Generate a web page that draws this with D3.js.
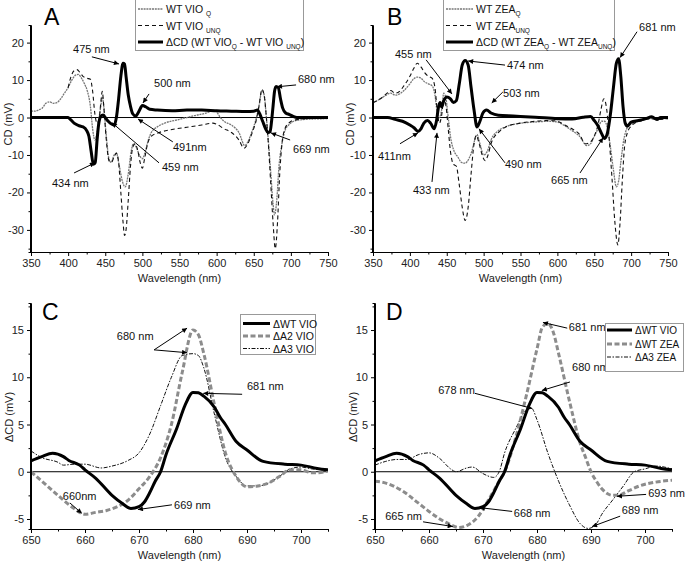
<!DOCTYPE html>
<html><head><meta charset="utf-8">
<script src="https://cdn.jsdelivr.net/npm/d3@7"></script>
<style>body{margin:0;background:#fff}svg{display:block;font-family:"Liberation Sans",Arial,sans-serif}</style>
</head><body>
<script>
// ---------- DATA ----------
const xTicksAB = [350,400,450,500,550,600,650,700,750];
const xMinorAB = [375,425,475,525,575,625,675,725];
const yTicksAB = [-30,-20,-10,0,10,20];
const yMinorAB = [-35,-25,-15,-5,5,15];
const xTicksCD = [650,660,670,680,690,700];
const xMinorCD = [655,665,675,685,695,705];
const yTicksCD = [-5,0,5,10,15];
const yMinorCD = [-2.5,2.5,7.5,12.5,17.5];

// Panel A  [nm, mV]
const A_dcd = [[350,0],[380,0],[400,0],[403,-0.5],[408,-1.5],[415,-2.2],[420,-2.5],[425,-3.5],[428,-5],[431,-9],[434,-12.5],[436.5,-12],[439,-6],[441,-2],[444,0.3],[447,0.7],[450,0],[454,-1],[459,-1.8],[462,-2],[465,0],[468,5],[471,11],[474,14.5],[476,14.3],[478,11],[481,6],[484,3],[487,1],[491,0.4],[495,1.5],[500,3.2],[505,2.8],[510,2.2],[520,2],[540,1.8],[560,2],[580,2],[600,1.8],[620,1.7],[640,1.6],[650,1.7],[655,2],[658,1],[662,-1],[666,-3],[669,-4],[672,-3.8],[674,-1],[676,3],[678,7],[680,8.3],[683,8],[686,5],[689,2.5],[693,1.2],[698,0.8],[703,0.3],[708,0],[750,0]];
const A_unq = [[400,8],[404,11],[408,12.5],[412,12.8],[416,12],[420,11],[425,10.5],[430,10.2],[433,7],[436,1],[439,-1.5],[442,0],[444,4],[446,7],[448,3],[451,-5],[455,-11.5],[458,-12],[462,-10.5],[465,-9.5],[468,-12],[471,-20],[474,-28],[476,-31.5],[478,-30],[481,-22],[484,-13],[487,-8],[490,-7],[494,-9],[497,-12],[500,-13.5],[503,-11],[507,-7],[512,-5],[520,-4.2],[540,-3.2],[560,-2.6],[580,-2],[595,-1.5],[600,-1.8],[610,-3],[620,-4],[630,-6],[637,-8.2],[642,-7],[648,-4],[653,-1],[657,3],[661,7.5],[664,6],[667,0],[670,-8],[673,-18],[676,-28],[679,-35],[682,-28],[685,-15],[688,-7],[692,-3],[697,-1.5],[702,-0.8],[710,-0.5],[720,-0.3],[750,0]];
const A_q = [[350,1.8],[355,1.7],[360,2],[365,2.5],[370,3.8],[375,4.2],[380,3.8],[385,4],[390,5],[395,6.5],[400,8],[405,10],[410,11.3],[414,11.5],[418,10.5],[422,9],[426,7],[430,3],[433,-3],[436,-6],[438,-5],[441,-1],[444,3],[446,5.5],[448,3],[451,-4],[455,-11],[458,-12],[462,-10],[465,-9.5],[469,-13],[473,-17],[477,-18.5],[481,-15],[485,-9],[488,-7],[492,-8],[496,-10],[500,-11],[504,-9],[508,-6],[512,-4],[520,-2.5],[530,-1.5],[550,-0.5],[570,0.5],[590,1.5],[595,2],[600,1.5],[605,0],[610,-1],[620,-2],[630,-4],[638,-7.5],[642,-6.5],[648,-3.5],[653,-0.5],[657,3],[661,7.2],[664,6],[667,0],[670,-7],[673,-15],[676,-23],[678,-26],[681,-22],[684,-13],[688,-7],[692,-3.5],[697,-2],[702,-1.2],[710,-0.7],[720,-0.5],[750,-0.3]];

// Panel B
const B_dcd = [[350,0],[370,0],[380,-0.5],[390,-1],[400,-2],[406,-2.8],[411,-3.7],[415,-3],[419,-1.5],[424,-0.8],[428,-1.5],[433,-3],[436,-1],[439,3],[441,4],[443,2.8],[446,4.5],[450,5.5],[455,5],[459,4],[463,4.5],[467,9],[471,14],[475,15.2],[479,14],[483,8],[487,2],[491,-2.5],[495,-1],[499,1.2],[504,2],[510,1.2],[520,0.6],[540,0.4],[570,0.1],[600,-0.3],[620,-0.4],[635,0.1],[645,0.3],[650,-0.8],[655,-2.2],[660,-4.3],[664,-5.6],[668,-4],[672,1],[676,8],[680,14.5],[683,15.7],[686,11],[689,3],[692,-1.5],[695,-2.3],[700,-1.2],[710,-0.8],[720,-0.3],[728,0.2],[735,-0.5],[740,0],[750,0]];
const B_unq = [[350,4],[360,5],[368,6.3],[374,7.2],[380,6.5],[386,7],[392,8.5],[400,11],[405,13],[410,14.5],[415,13.5],[420,12],[425,11],[430,10.5],[434,8],[437,2],[440,-1.5],[443,0.5],[446,5],[449,3],[452,-3],[455,-9],[459,-12.5],[463,-13],[467,-18],[471,-24],[475,-27.5],[479,-24],[483,-15],[487,-7],[490,-4.8],[494,-7],[498,-10],[502,-11.5],[506,-10],[510,-7],[515,-5],[520,-4],[530,-2.5],[550,-1.5],[570,-1],[590,-0.8],[600,-1],[610,-2],[620,-3],[630,-4.5],[638,-7],[645,-6.5],[650,-5],[655,-2],[659,2],[663,5],[667,2],[670,-5],[674,-16],[678,-28],[682,-34],[685,-28],[688,-17],[691,-8],[695,-4],[699,-2.5],[705,-1.5],[715,-0.8],[725,-0.3],[735,-0.5],[750,-0.3]];
const B_q = [[350,4],[360,5],[368,6],[374,6.5],[380,6],[386,6.3],[392,7.2],[400,9],[405,10.3],[410,10.8],[415,10.5],[420,9.5],[425,9],[430,8.5],[434,6],[437,1.5],[440,0],[443,2],[446,6.5],[449,5],[452,0],[455,-5],[460,-9],[465,-10.5],[470,-12],[475,-12.2],[480,-11],[484,-9],[488,-6],[491,-4.5],[495,-7],[500,-10],[505,-9],[510,-6],[520,-3.5],[530,-2.5],[550,-1.5],[570,-1.2],[590,-1],[600,-1.2],[610,-2.2],[620,-3.5],[630,-5],[640,-7.5],[645,-7],[650,-5],[655,-3],[660,-1],[664,-1],[668,-3],[672,-8],[676,-14],[680,-18.5],[683,-17],[686,-12],[690,-6],[694,-3],[698,-2],[705,-1.3],[715,-0.8],[725,-0.3],[750,-0.3]];

// Panel C / D
const dWT_VIO = [[650,1.15],[652,1.6],[654,1.95],[656,1.6],[657,1.2],[659,0.7],[660,0.2],[662,-0.7],[665,-2.5],[667,-3.4],[668.5,-3.9],[670,-3.7],[671,-3.2],[672,-2.2],[673,-1],[674,0],[675,1.8],[677,4.6],[678.5,7],[680,8.4],[681,8.35],[682,8],[684,6.8],[685,5.8],[686,5],[688,3.2],[690,2.3],[693,1.1],[697,0.8],[700,0.7],[703,0.35],[705,0.2]];
const dA2_VIO = [[650,0],[652,-1],[655,-2.5],[658,-3.9],[660,-4.5],[662,-4.3],[664,-4.1],[666,-3.7],[668,-3],[670,-1.8],[672,-0.5],[674,1.5],[676,5],[678,10.5],[680,15],[681,14.5],[682,12.5],[684,7],[686,2],[688,-0.5],[690,-1.6],[692,-1.5],[694,-1.2],[696,-0.5],[698,0.2],[700,0.2],[702,-0.1],[703,-0.1],[705,0.1]];
const dA3_VIO = [[650,2.2],[652,1.5],[655,1],[656,0.7],[658,0.8],[660,0.8],[663,0.4],[665,0.6],[668,1.2],[670,2],[672,4],[674,7],[676,10],[678,12.3],[680,12.5],[681,12.3],[682,11],[684,6],[686,1.5],[688,-0.5],[690,-1.5],[692,-1.5],[694,-1.2],[696,-0.5],[698,0.3],[700,0.5],[702,0.3],[705,0.2]];
const dWT_ZEA = [[650,-1],[652,-1.2],[655,-2],[658,-3.3],[660,-4.2],[662,-5],[664,-5.6],[665.5,-5.9],[667,-5.7],[669,-4.8],[671,-3],[673,-1],[674,0],[676,3.5],[678,8],[680,13],[681,15.3],[682,15.7],[683,14.8],[684,12.5],[686,7.5],[688,3],[689,1.5],[690,0],[691,-1],[692,-1.8],[693,-2.3],[694,-2.5],[695,-2.5],[697,-2],[699,-1.5],[702,-1.1],[705,-0.9]];
const dA3_ZEA = [[650,0.7],[652,1.1],[654,1.3],[656,1.3],[658,1.8],[660,2],[662,1.4],[664,0.3],[665,0],[667,0.4],[668,0.5],[670,-0.2],[672,-0.6],[673,0],[674,2],[676,4.5],[678,6.5],[679,6.7],[680,5.5],[682,2],[684,-1],[686,-3.5],[688,-5.5],[689.5,-6],[691,-5.5],[692,-4.5],[694,-3],[696,-1.5],[698,0],[700,0.3],[702,0.6],[705,0.3]];

// annotations: text, label anchor [nm,val], arrow from [nm,val], arrow to [nm,val]
const annA = [
 {t:"475 nm", at:[406.6,17.2], from:[432,16.2], to:[468.5,14.3]},
 {t:"500 nm", at:[515.7,8.2], from:[509,6.3], to:[500.8,3.9]},
 {t:"680 nm", at:[709.6,9.2], from:[707,8.7], to:[681.3,8.2]},
 {t:"491nm", at:[541.2,-8.9], from:[541,-6.5], to:[494.1,-0.4]},
 {t:"459 nm", at:[526.4,-14.3], from:[522.4,-12.1], to:[459.1,-1.4]},
 {t:"669 nm", at:[702.9,-9.5], from:[699,-6.0], to:[673.2,-4.1]},
 {t:"434 nm", at:[378.3,-18.5], from:[408,-14.8], to:[436,-12.1]}
];
const annB = [
 {t:"455 nm", at:[379.8,15.9], from:[422,15.4], to:[457,6.3]},
 {t:"474 nm", at:[531.7,13.0], from:[529,14.0], to:[479,15.1]},
 {t:"503 nm", at:[526.3,5.5], from:[526,6.8], to:[511,3.9]},
 {t:"490 nm", at:[529,-13.5], from:[529,-12.1], to:[493.7,-3.0]},
 {t:"411nm", at:[356.8,-11.3], from:[386.6,-7.0], to:[411,-4.1]},
 {t:"433 nm", at:[404.2,-20.4], from:[430,-17.2], to:[436.8,-4.1]},
 {t:"665 nm", at:[591.4,-17.7], from:[630.7,-14.8], to:[662,-5.4]},
 {t:"681 nm", at:[710.7,23.1], from:[708,22.9], to:[685,16]}
];
const annC = [
 {t:"680 nm", at:[665.9,13.9], from:[672.8,12.9], to:[678.9,15.2]},
 {t:"", at:null, from:[672.8,12.9], to:[678.9,12.6]},
 {t:"681 nm", at:[690,8.6], from:[689.1,8.2], to:[681.9,8.3]},
 {t:"660nm", at:[655.9,-3.0], from:[657.2,-3.3], to:[659.4,-4.4]},
 {t:"669 nm", at:[676.5,-3.9], from:[676.1,-3.5], to:[669.8,-4.0]}
];
const annD = [
 {t:"681 nm", at:[685.9,14.9], from:[685.6,15.2], to:[681.1,15.8]},
 {t:"680 nm", at:[686.5,10.7], from:[686.1,9.5], to:[680.9,8.6]},
 {t:"678 nm", at:[661.7,8.2], from:[668.5,8.3], to:[679.1,6.7]},
 {t:"668 nm", at:[675.7,-4.8], from:[675.4,-4.2], to:[669.4,-3.8]},
 {t:"665 nm", at:[651.9,-5.1], from:[658.9,-5.3], to:[664.4,-5.8]},
 {t:"693 nm", at:[700.6,-2.7], from:[700.2,-2.4], to:[694.8,-2.6]},
 {t:"689 nm", at:[695.7,-4.5], from:[695.4,-4.7], to:[690.2,-5.8]}
];

// ---------- STYLES ----------
const ST = {
  thick:{stroke:"#000",w:3,dash:null},
  unq:{stroke:"#111",w:1.1,dash:"4,3"},
  q:{stroke:"#777",w:1.3,dash:"2,0.8"},
  gdash:{stroke:"#8c8c8c",w:3,dash:"5,2.5"},
  ddot:{stroke:"#111",w:1,dash:"4,1.5,1.5,1.5"}
};

const svg = d3.select("body").append("svg").attr("width",685).attr("height",562);
const defs = svg.append("defs");
defs.append("marker").attr("id","ah").attr("viewBox","0 0 10 10").attr("refX",10).attr("refY",5)
  .attr("markerWidth",7).attr("markerHeight",5).attr("markerUnits","userSpaceOnUse").attr("orient","auto")
  .append("path").attr("d","M0,0L10,5L0,10z").attr("fill","#000");

function panel(cfg){
  const g = svg.append("g");
  const x = d3.scaleLinear().domain(cfg.xd).range(cfg.xr);
  const y = d3.scaleLinear().domain(cfg.yd).range(cfg.yr);
  const cid = "clip"+cfg.id;
  defs.append("clipPath").attr("id",cid).append("rect")
    .attr("x",cfg.xr[0]).attr("y",cfg.yr[1]-2).attr("width",cfg.xr[1]-cfg.xr[0]).attr("height",cfg.yr[0]-cfg.yr[1]+2);
  // zero line
  g.append("line").attr("x1",cfg.xr[0]).attr("x2",cfg.xr[1]).attr("y1",y(0)).attr("y2",y(0))
    .attr("stroke","#000").attr("stroke-width",1);
  const line = d3.line().x(d=>x(d[0])).y(d=>y(d[1])).curve(d3.curveMonotoneX);
  const sg = g.append("g").attr("clip-path",`url(#${cid})`);
  cfg.series.forEach(s=>{
    const st = ST[s.style];
    sg.append("path").datum(s.data).attr("d",line).attr("fill","none")
      .attr("stroke",st.stroke).attr("stroke-width",st.w).attr("stroke-dasharray",st.dash)
      .attr("stroke-linejoin","round");
  });
  // axes
  const fmt = d=>String(d);
  const ax = g.append("g").attr("transform",`translate(0,${cfg.yr[0]})`)
    .call(d3.axisBottom(x).tickValues(cfg.xt).tickSize(4).tickPadding(3).tickFormat(fmt));
  g.append("g").attr("transform",`translate(0,${cfg.yr[0]})`)
    .call(d3.axisBottom(x).tickValues(cfg.xm).tickSize(2.5).tickFormat(""));
  const ay = g.append("g").attr("transform",`translate(${cfg.xr[0]},0)`)
    .call(d3.axisLeft(y).tickValues(cfg.yt).tickSize(4).tickPadding(3).tickFormat(fmt));
  g.append("g").attr("transform",`translate(${cfg.xr[0]},0)`)
    .call(d3.axisLeft(y).tickValues(cfg.ym).tickSize(2.5).tickFormat(""));
  g.selectAll(".domain").attr("stroke","#000").attr("stroke-width",1);
  g.selectAll(".tick line").attr("stroke","#000");
  g.selectAll(".tick text").attr("font-size",11).attr("fill","#222").attr("font-family","Liberation Sans, Arial, sans-serif");
  ax.select(".domain").attr("d",`M${cfg.xr[0]},0.5H${cfg.xr[1]}`);
  ay.select(".domain").attr("d",`M-0.5,${cfg.yr[0]}V${cfg.yr[1]}`);
  // titles
  g.append("text").attr("x",(cfg.xr[0]+cfg.xr[1])/2).attr("y",cfg.yr[0]+30).attr("text-anchor","middle")
    .attr("font-size",11).attr("fill","#222").text("Wavelength (nm)");
  g.append("text").attr("transform",`translate(${cfg.ytx},${cfg.yty}) rotate(-90)`).attr("text-anchor","middle")
    .attr("font-size",11).attr("fill","#222").text(cfg.ytitle);
  // panel letter
  g.append("text").attr("x",cfg.letter[0]).attr("y",cfg.letter[1]).attr("font-size",23).attr("fill","#000").text(cfg.id);
  // annotations
  cfg.ann.forEach(a=>{
    if(a.at) g.append("text").attr("x",x(a.at[0])).attr("y",y(a.at[1])).attr("font-size",11).attr("fill","#111").text(a.t);
    g.append("line").attr("x1",x(a.from[0])).attr("y1",y(a.from[1])).attr("x2",x(a.to[0])).attr("y2",y(a.to[1]))
      .attr("stroke","#000").attr("stroke-width",1).attr("marker-end","url(#ah)");
  });
  // legend
  const L = cfg.legend;
  const lg = svg.append("g");
  lg.append("rect").attr("x",L.box[0]+0.5).attr("y",L.box[1]+0.5).attr("width",L.box[2]-L.box[0]).attr("height",L.box[3]-L.box[1])
    .attr("fill","#fff").attr("stroke","#999").attr("stroke-width",1);
  L.rows.forEach((r,i)=>{
    const yy = L.ys[i];
    const st = ST[r.style];
    lg.append("line").attr("x1",L.lx[0]).attr("x2",L.lx[1]).attr("y1",yy).attr("y2",yy)
      .attr("stroke",st.stroke).attr("stroke-width",st.w).attr("stroke-dasharray",st.dash);
    const t = lg.append("text").attr("x",L.tx).attr("y",yy+4).attr("font-size",L.fs).attr("fill","#111");
    let sub=false;
    r.parts.forEach(p=>{
      const isSub = p[1]===1;
      const ts = t.append("tspan").text(p[0]);
      if(isSub && !sub){ ts.attr("dy",3).attr("font-size",6.5); sub=true; }
      else if(isSub){ ts.attr("font-size",6.5); }
      else if(!isSub && sub){ ts.attr("dy",-3); sub=false; }
    });
  });
}

panel({id:"A", xd:[350,750], xr:[31,328], yd:[-35.9,24.7], yr:[252,25],
  xt:xTicksAB, xm:xMinorAB, yt:yTicksAB, ym:yMinorAB, ytitle:"CD (mV)", ytx:12, yty:124,
  letter:[44,25],
  series:[{data:A_q,style:"q"},{data:A_unq,style:"unq"},{data:A_dcd,style:"thick"}],
  ann:annA,
  legend:{box:[135,-1,303,50], lx:[138,163], tx:166, ys:[9,25.5,42], fs:10.5,
    rows:[{style:"q",parts:[["WT VIO ",0],["Q",1]]},
          {style:"unq",parts:[["WT VIO ",0],["UNQ",1]]},
          {style:"thick",parts:[["\u0394CD (WT VIO",0],["Q",1],[" - WT VIO ",0],["UNQ",1],[")",0]]}]}
});
panel({id:"B", xd:[350,750], xr:[373,668], yd:[-35.9,24.7], yr:[252,25],
  xt:xTicksAB, xm:xMinorAB, yt:yTicksAB, ym:yMinorAB, ytitle:"CD (mV)", ytx:354, yty:124,
  letter:[387,25],
  series:[{data:B_q,style:"q"},{data:B_unq,style:"unq"},{data:B_dcd,style:"thick"}],
  ann:annB,
  legend:{box:[443,-1,614,50], lx:[446,473], tx:476, ys:[9,25.5,42], fs:10.5,
    rows:[{style:"q",parts:[["WT ZEA",0],["Q",1]]},
          {style:"unq",parts:[["WT ZEA",0],["UNQ",1]]},
          {style:"thick",parts:[["\u0394CD (WT ZEA",0],["Q",1],[" - WT ZEA",0],["UNQ",1],[")",0]]}]}
});
panel({id:"C", xd:[650,705], xr:[31,328], yd:[-6.06,17.86], yr:[529,303],
  xt:xTicksCD, xm:xMinorCD, yt:yTicksCD, ym:yMinorCD, ytitle:"\u0394CD (mV)", ytx:13, yty:417,
  letter:[42,320],
  series:[{data:dA3_VIO,style:"ddot"},{data:dA2_VIO,style:"gdash"},{data:dWT_VIO,style:"thick"}],
  ann:annC,
  legend:{box:[240,314,315,354], lx:[243,270], tx:273, ys:[323.5,336,348.5], fs:10.5,
    rows:[{style:"thick",parts:[["\u0394WT VIO",0]]},
          {style:"gdash",parts:[["\u0394A2 VIO",0]]},
          {style:"ddot",parts:[["\u0394A3 VIO",0]]}]}
});
panel({id:"D", xd:[650,705], xr:[375,672], yd:[-6.06,17.86], yr:[529,303],
  xt:xTicksCD, xm:xMinorCD, yt:yTicksCD, ym:yMinorCD, ytitle:"\u0394CD (mV)", ytx:357, yty:417,
  letter:[386,320],
  series:[{data:dA3_ZEA,style:"ddot"},{data:dWT_ZEA,style:"gdash"},{data:dWT_VIO,style:"thick"}],
  ann:annD,
  legend:{box:[605,323,683,371], lx:[607,632], tx:635, ys:[330,344,357], fs:10,
    rows:[{style:"thick",parts:[["\u0394WT VIO",0]]},
          {style:"gdash",parts:[["\u0394WT ZEA",0]]},
          {style:"ddot",parts:[["\u0394A3 ZEA",0]]}]}
});
</script>
</body></html>
